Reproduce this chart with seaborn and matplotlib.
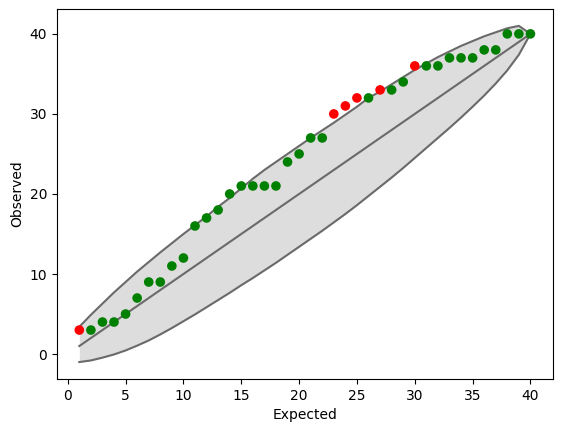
import numpy as np
import pandas as pd
import matplotlib
matplotlib.use("Agg")
import matplotlib.pyplot as plt
import seaborn as sns

# expected rank and observed count
expected = list(range(1, 41))
observed = [3, 3, 4, 4, 5, 7, 9, 9, 11, 12,
            16, 17, 18, 20, 21, 21, 21, 21, 24, 25,
            27, 27, 30, 31, 32, 32, 33, 33, 34, 36,
            36, 36, 37, 37, 37, 38, 38, 40, 40, 40]
outside = [1, 23, 24, 25, 27, 30]  # points plotted in red

# envelope
band_upper = [3.4, 4.9, 6.3, 7.7, 9.0, 10.3, 11.5, 12.7, 13.85, 15.0,
              16.1, 17.2, 18.4, 19.5, 20.7, 21.9, 23.0, 24.0, 25.0, 26.0,
              27.0, 27.95, 28.9, 29.9, 30.9, 32.0, 32.8, 33.7, 34.6, 35.5,
              36.3, 37.1, 37.8, 38.5, 39.1, 39.7, 40.2, 40.7, 41.0, 40.0]
band_lower = [-1.0, -0.8, -0.45, -0.05, 0.45, 1.05, 1.7, 2.45, 3.25, 4.1,
              4.95, 5.85, 6.75, 7.65, 8.6, 9.5, 10.45, 11.4, 12.4, 13.4,
              14.4, 15.4, 16.45, 17.5, 18.6, 19.75, 20.9, 22.05, 23.25, 24.5,
              25.75, 27.0, 28.25, 29.55, 30.9, 32.3, 33.8, 35.45, 37.4, 40.0]

df = pd.DataFrame({"Expected": expected, "Observed": observed})
df["flag"] = np.where(df["Expected"].isin(outside), "out", "in")

fig, ax = plt.subplots(figsize=(5.62, 4.32), dpi=100)
fig.subplots_adjust(left=0.101, right=0.984, top=0.979, bottom=0.123)

ax.fill_between(expected, band_lower, band_upper, color="#dddddd", linewidth=0)
ax.plot(expected, band_upper, color="#6a6a6a", lw=1.5)
ax.plot(expected, band_lower, color="#6a6a6a", lw=1.5)
ax.plot(expected, expected, color="#6a6a6a", lw=1.5)

sns.scatterplot(data=df, x="Expected", y="Observed", hue="flag",
                palette={"in": "green", "out": "red"}, s=48, linewidth=0,
                legend=False, ax=ax, zorder=3)
ax.set_xlabel("Expected")
ax.set_ylabel("Observed")

plt.savefig("out.png")
